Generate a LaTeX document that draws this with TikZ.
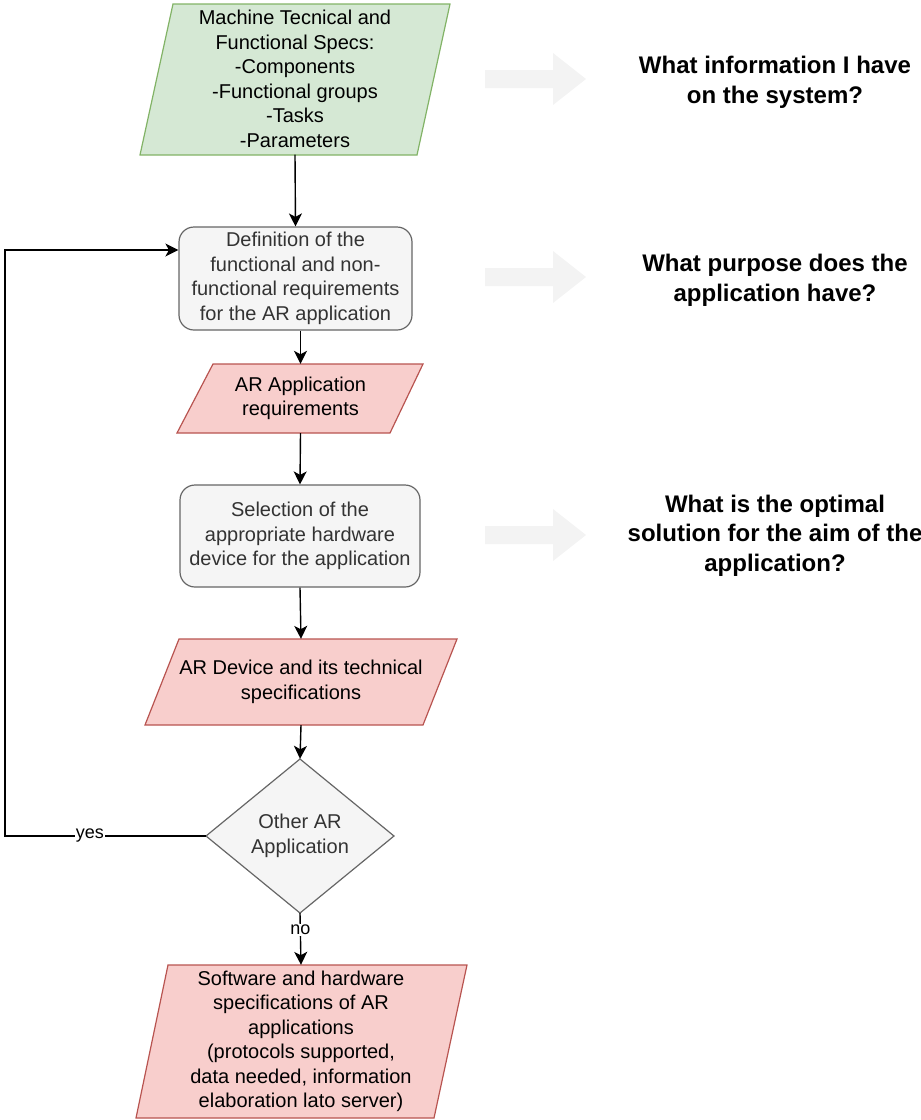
\documentclass[tikz,border=0pt]{standalone}
\usepackage{fontspec}
\setmainfont{Liberation Sans}
\usetikzlibrary{arrows.meta}
\definecolor{greenfill}{HTML}{D5E8D4}
\definecolor{greenline}{HTML}{82B366}
\definecolor{redfill}{HTML}{F8CECC}
\definecolor{redline}{HTML}{B85450}
\definecolor{grayfill}{HTML}{F5F5F5}
\definecolor{grayline}{HTML}{666666}
\definecolor{graytext}{HTML}{333333}
\definecolor{hintarrow}{HTML}{F3F3F3}
\tikzset{
  body/.style={font=\fontsize{20}{24.5}\selectfont, align=center, inner sep=0pt},
  question/.style={font=\fontsize{24}{29.5}\selectfont\bfseries, align=center, inner sep=0pt},
  greenpar/.style={fill=greenfill, draw=greenline, line width=1.2pt},
  redpar/.style={fill=redfill, draw=redline, line width=1.2pt},
  processbox/.style={body, draw=grayline, fill=grayfill, text=graytext, rounded corners=15pt, line width=1.2pt},
  flow/.style={line width=1.4pt, -{Stealth[length=13pt,width=13pt,inset=3.5pt]}},
  edgelabel/.style={font=\fontsize{18}{20}\selectfont, fill=white, inner sep=1pt},
}
\begin{document}
\begin{tikzpicture}[x=1pt,y=-1pt]
\useasboundingbox (0,0) rectangle (921,1120);

% input data: machine specifications
\draw[greenpar] (173,4) -- (450,4) -- (417,155) -- (140,155) -- cycle;
\node[body, minimum width=240pt, minimum height=151pt] (spec) at (295,79)
  {Machine Tecnical and\\Functional Specs:\\-Components\\-Functional groups\\-Tasks\\-Parameters};

% requirement definition
\node[processbox, minimum width=233pt, minimum height=103pt] (req) at (295.5,278.5)
  {Definition of the\\functional and non-\\functional requirements\\for the AR application};

% application requirements
\draw[redpar] (213,364) -- (423,364) -- (390,433) -- (177,433) -- cycle;
\node[body, minimum width=180pt, minimum height=69pt] (appreq) at (300.5,398.5)
  {AR Application\\requirements};

% hardware selection
\node[processbox, minimum width=240pt, minimum height=102pt] (sel) at (300,536)
  {Selection of the\\appropriate hardware\\device for the application};

% device specifications
\draw[redpar] (179,639) -- (457,639) -- (423,725) -- (145,725) -- cycle;
\node[body, minimum width=240pt, minimum height=86pt] (dev) at (301,682)
  {AR Device and its technical\\specifications};

% decision
\draw[fill=grayfill, draw=grayline, line width=1.2pt]
  (300,759) -- (394,836) -- (300,913) -- (206,836) -- cycle;
\node[body, text=graytext, minimum width=188pt, minimum height=154pt] (dec) at (300,836)
  {Other AR\\Application};

% output specifications
\draw[redpar] (168,965) -- (467,965) -- (434,1118) -- (136,1118) -- cycle;
\node[body, minimum width=260pt, minimum height=153pt] (sw) at (301,1041.5)
  {Software and hardware\\specifications of AR\\applications\\(protocols supported,\\data needed, information\\elaboration lato server)};

% main flow
\coordinate (loop) at (5,836);
\draw[flow] (spec.south) -- (req.north);
\draw[flow] (req.south -| appreq) -- (appreq.north);
\draw[flow] (appreq.south) -- (sel.north);
\draw[flow] (sel.south) -- (dev.north);
\draw[flow] (dev.south) -- (dec.north);
\draw[flow] (dec.south) -- node[edgelabel, pos=0.33] {no} (sw.north);
\draw[flow] (dec.west) -- node[edgelabel, pos=0.577] {yes} (loop) |- ([yshift=28.5pt]req.west);

% hint arrows and questions
\foreach \y in {79,277,535} {
  \fill[hintarrow] (485,\y-9) -- (553,\y-9) -- (553,\y-26) -- (586,\y)
    -- (553,\y+26) -- (553,\y+9) -- (485,\y+9) -- cycle;
}
\node[question] (q1) at (775,82.5) {What information I have\\on the system?};
\node[question] (q2) at (775,280.5) {What purpose does the\\application have?};
\node[question] (q3) at (775,535.5) {What is the optimal\\solution for the aim of the\\application?};
\end{tikzpicture}
\end{document}
